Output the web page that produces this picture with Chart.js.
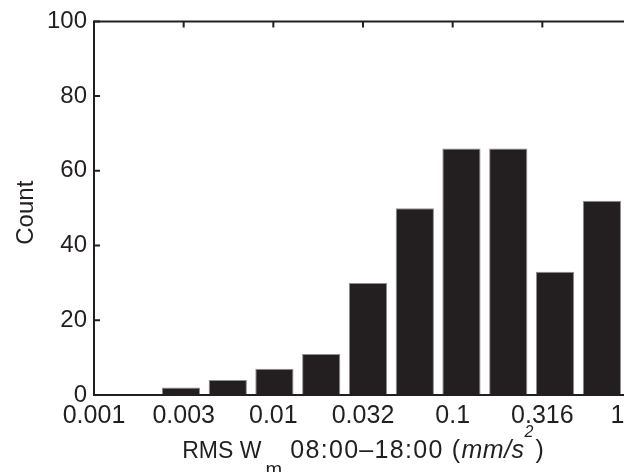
<!DOCTYPE html>
<html><head><meta charset="utf-8">
<script src="https://cdn.jsdelivr.net/npm/chart.js@4.4.0/dist/chart.umd.min.js"></script>
<style>html,body{margin:0;padding:0;overflow:hidden;background:#fff;width:624px;height:472px}canvas{display:block}</style>
</head><body>
<canvas id="c" width="660" height="472" style="width:660px;height:472px"></canvas>
<script>
// log10 bin centres of the histogram bars
const binCenters = [-2.776, -2.515, -2.254, -1.994, -1.733, -1.472, -1.211, -0.951, -0.690, -0.429, -0.168];
const counts = [0, 2, 4, 7, 11, 30, 50, 66, 66, 33, 52];
const xTickValues = [-3, -2.5, -2, -1.5, -1, -0.5, 0];
const xTickLabels = ['0.001', '0.003', '0.01', '0.032', '0.1', '0.316', '1'];
const yTickValues = [0, 20, 40, 60, 80, 100];
const yTitle = 'Count';

const INK = '#231f20';
const FAM = '"Liberation Sans", Arial, Helvetica, sans-serif';
Chart.defaults.font.family = FAM;
Chart.defaults.color = INK;

const axesPlugin = {
  id: 'matlabAxes',
  afterDatasetsDraw(chart) {
    const {ctx, chartArea: a, scales: {x, y}} = chart;
    ctx.save();
    ctx.strokeStyle = INK;
    ctx.lineWidth = 2;
    ctx.lineCap = 'butt';
    ctx.beginPath();
    ctx.rect(a.left, a.top, a.right - a.left, a.bottom - a.top);
    ctx.stroke();
    const tl = 6;
    ctx.beginPath();
    xTickValues.forEach(v => {
      const px = x.getPixelForValue(v);
      ctx.moveTo(px, a.bottom); ctx.lineTo(px, a.bottom - tl);
      ctx.moveTo(px, a.top); ctx.lineTo(px, a.top + tl);
    });
    yTickValues.forEach(v => {
      const py = y.getPixelForValue(v);
      ctx.moveTo(a.left, py); ctx.lineTo(a.left + tl, py);
      ctx.moveTo(a.right, py); ctx.lineTo(a.right - tl, py);
    });
    ctx.stroke();
    ctx.restore();
  },
  afterDraw(chart) {
    const {ctx, chartArea: a, scales: {x}} = chart;
    const visW = window.innerWidth || 624;
    ctx.save();
    ctx.fillStyle = INK;
    ctx.font = '25px ' + FAM;
    ctx.textBaseline = 'alphabetic';
    ctx.textAlign = 'center';
    xTickValues.forEach((v, i) => {
      const w = ctx.measureText(xTickLabels[i]).width;
      let px = x.getPixelForValue(v);
      px = Math.min(px, visW - w / 2 + 0.5);
      ctx.fillText(xTickLabels[i], px, 423);
    });
    // y title
    ctx.save();
    ctx.font = '24px ' + FAM;
    ctx.translate(33, (a.top + a.bottom) / 2 + 4.5);
    ctx.rotate(-Math.PI / 2);
    ctx.fillText(yTitle, 0, 0);
    ctx.restore();
    // x title with sub/superscript
    ctx.textAlign = 'left';
    const parts = [
      {t: 'RMS W', f: '23px ' + FAM, dy: 0, gap: 0, ls: 0},
      {t: 'm', f: '20px ' + FAM, dy: 18, gap: 4, ls: 0},
      {t: ' 08:00\u201318:00 (', f: '25px ' + FAM, dy: 0, gap: 0, ls: 1.3},
      {t: 'mm/s', f: 'italic 25px ' + FAM, dy: 0, gap: 0, ls: 0.5},
      {t: '2', f: 'italic 16px ' + FAM, dy: -21, gap: 0, ls: 0},
      {t: ')', f: '25px ' + FAM, dy: 0, gap: 2, ls: 0}
    ];
    let total = 0;
    parts.forEach(p => {
      ctx.font = p.f; ctx.letterSpacing = p.ls + 'px';
      p.w = ctx.measureText(p.t).width; total += p.gap + p.w;
    });
    let cx = (a.left + a.right) / 2 - total / 2;
    parts.forEach(p => {
      cx += p.gap;
      ctx.font = p.f; ctx.letterSpacing = p.ls + 'px';
      ctx.fillText(p.t, cx, 458 + p.dy);
      cx += p.w;
    });
    ctx.restore();
  }
};

new Chart(document.getElementById('c'), {
  type: 'bar',
  data: {
    datasets: [{
      data: binCenters.map((c, i) => ({x: c, y: counts[i]})),
      backgroundColor: INK,
      borderColor: '#8e8e8e',
      borderWidth: 1,
      borderSkipped: 'start',
      categoryPercentage: 1,
      barPercentage: 0.82
    }]
  },
  options: {
    responsive: false,
    animation: false,
    devicePixelRatio: 1,
    layout: {padding: {left: 0, right: 28, top: 20, bottom: 0}},
    plugins: {legend: {display: false}, tooltip: {enabled: false}},
    scales: {
      x: {
        type: 'linear', min: -3, max: 0, offset: false,
        grid: {display: false, drawTicks: false},
        border: {display: false},
        ticks: {display: false, stepSize: 0.5},
        afterFit(s) { s.height = 77; }
      },
      y: {
        min: 0, max: 100,
        grid: {display: false, drawTicks: false},
        border: {display: false},
        ticks: {stepSize: 20, padding: 7, color: INK, font: {size: 24, family: FAM}},
        afterFit(s) { s.width = 94; }
      }
    }
  },
  plugins: [axesPlugin]
});
</script>
</body></html>
